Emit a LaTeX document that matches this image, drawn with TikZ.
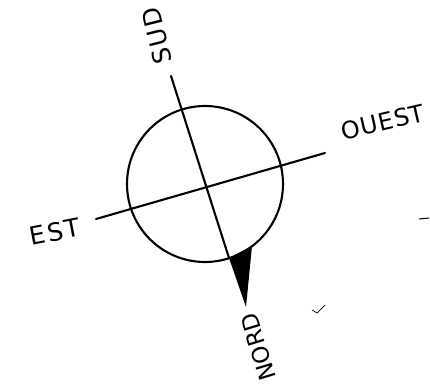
\documentclass[tikz,border=0pt]{standalone}
\usepackage{fontspec}
\setmainfont{DejaVu Sans}
\begin{document}
\begin{tikzpicture}[x=1pt,y=-1pt,
  stroke/.style={line width=2.1pt,line cap=round},
  lbl/.style={font=\fontsize{25}{25}\selectfont\addfontfeatures{LetterSpace=8},inner sep=0pt}]
\useasboundingbox (0,0) rectangle (430,387);
% circle
\node[draw,circle,line width=2.1pt,minimum size=156pt,inner sep=0pt] (c) at (205,184) {};
% axis end points
\coordinate (s) at (171,76);
\coordinate (nb) at (229,258);
\coordinate (nr) at (252,246);
\coordinate (tip) at (246,307);
\coordinate (e) at (96,219);
\coordinate (w) at (325,153);
\draw[stroke] (s) -- (nb);
\draw[stroke] (e) -- (w);
\fill (nb) -- (nr) -- (tip) -- cycle;
% labels
\node[lbl,rotate=104] (sud) at (157,36) {SUD};
\node[lbl,rotate=107,font=\fontsize{23}{23}\selectfont] (nord) at (258,347) {NORD};
\node[lbl,rotate=11] (est) at (55,232) {EST};
\node[lbl,rotate=13,font=\fontsize{24}{24}\selectfont\addfontfeatures{LetterSpace=3}] (ouest) at (383,122) {OUEST};
% small marks
\draw[line width=0.7pt] (312,310) -- (317,313) -- (325,305);
\draw[line width=1pt] (419,219) -- (429,218);
\end{tikzpicture}
\end{document}
